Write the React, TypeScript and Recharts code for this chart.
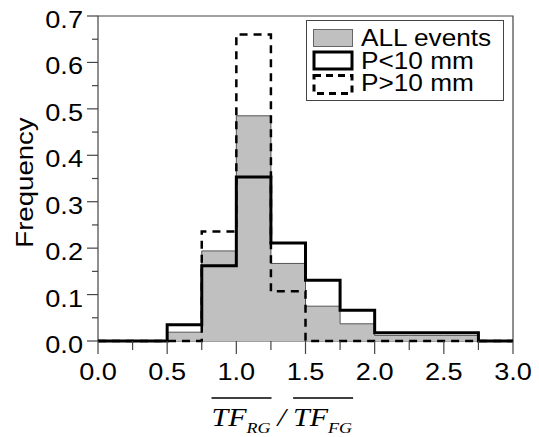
import React from 'react';
import {
    ComposedChart, Area, Line, XAxis, YAxis, ReferenceArea, Legend, Label
} from 'recharts';

// histogram bins (width 0.25) and frequencies
const binStarts = [0, 0.25, 0.5, 0.75, 1.0, 1.25, 1.5, 1.75, 2.0, 2.25, 2.5, 2.75];
const allEvents = [0, 0, 0.019, 0.194, 0.485, 0.167, 0.075, 0.037, 0.012, 0.012, 0.012, 0];
const pLess10 = [0, 0, 0.035, 0.162, 0.353, 0.211, 0.131, 0.066, 0.018, 0.018, 0.018, 0];
const pMore10 = [0, 0, 0, 0.236, 0.66, 0.107, 0, 0, 0, 0, 0, 0];
const binEnd = 3.0;

const xTicks = [0, 0.25, 0.5, 0.75, 1.0, 1.25, 1.5, 1.75, 2.0, 2.25, 2.5, 2.75, 3.0];
const yTicks = [0, 0.05, 0.1, 0.15, 0.2, 0.25, 0.3, 0.35, 0.4, 0.45, 0.5, 0.55, 0.6, 0.65, 0.7];

const seriesNames = { all: 'ALL events', lt10: 'P<10 mm', gt10: 'P>10 mm' };

// step series need a closing point at the right edge
const rows = binStarts.map((x, i) => ({ x, all: allEvents[i], lt10: pLess10[i], gt10: pMore10[i] }));
rows.push({ x: binEnd, all: allEvents[allEvents.length - 1], lt10: pLess10[pLess10.length - 1], gt10: pMore10[pMore10.length - 1] });

const SANS = "'Liberation Sans', Arial, Helvetica, sans-serif";
const SERIF = "'Liberation Serif', 'Times New Roman', serif";
const AXIS = '#444';
const GREY = '#c0c0c0';

const renderXTick = (props: any) => {
    const { x, y, payload } = props;
    const v = payload.value;
    const major = Math.round(v * 100) % 50 === 0;
    return (
        <g>
            <line x1={x} x2={x} y1={y} y2={y + (major ? 13 : 9)} stroke={AXIS} strokeWidth={1.2} />
            {major && (
                <text transform={`translate(${x},${y + 39}) scale(1.18,1)`} textAnchor="middle"
                    fontFamily={SANS} fontSize={23} fill="#000">{v.toFixed(1)}</text>
            )}
        </g>
    );
};

const renderYTick = (props: any) => {
    const { x, y, payload } = props;
    const v = payload.value;
    const major = Math.round(v * 100) % 10 === 0;
    return (
        <g>
            <line x1={x - (major ? 11 : 6)} x2={x} y1={y} y2={y} stroke={AXIS} strokeWidth={1.2} />
            {major && (
                <text transform={`translate(${x - 15},${y + 12}) scale(1.18,1)`} textAnchor="end"
                    fontFamily={SANS} fontSize={23} fill="#000">{v.toFixed(1)}</text>
            )}
        </g>
    );
};

const FreqLabel = (props: any) => {
    const vb = props.viewBox;
    return (
        <text transform={`translate(33,${vb.y + vb.height / 2 + 4}) rotate(-90) scale(1.2,1)`}
            textAnchor="middle" fontFamily={SANS} fontSize={23} fill="#000">Frequency</text>
    );
};

// overlined TF_RG / TF_FG
const RatioLabel = (props: any) => {
    const vb = props.viewBox;
    const ox = vb.x + vb.width / 2 - 94;
    const base = vb.y + 85;
    const sub = vb.y + 92;
    const over = vb.y + 57;
    const big = (tx: number, s: string) => (
        <text transform={`translate(${tx},${base}) scale(1.2,1)`} fontFamily={SERIF} fontStyle="italic" fontSize={25} fill="#000">{s}</text>
    );
    const small = (tx: number, s: string) => (
        <text transform={`translate(${tx},${sub}) scale(1.2,1)`} fontFamily={SERIF} fontStyle="italic" fontSize={15} fill="#000">{s}</text>
    );
    return (
        <g>
            <line x1={ox} x2={ox + 60} y1={over} y2={over} stroke="#000" strokeWidth={1.5} />
            <line x1={ox + 81.6} x2={ox + 141.6} y1={over} y2={over} stroke="#000" strokeWidth={1.5} />
            {big(ox, 'TF')}
            {small(ox + 35, 'RG')}
            {big(ox + 66, '/')}
            {big(ox + 81.6, 'TF')}
            {small(ox + 116.6, 'FG')}
        </g>
    );
};

const renderLegend = (props: any) => {
    const items = props.payload || [];
    return (
        <svg width={199} height={82} style={{ display: 'block' }}>
            <rect x={0.5} y={0.5} width={197} height={80} fill="#fff" stroke={AXIS} strokeWidth={1} />
            {items.map((entry: any, i: number) => {
                const sy = 9.5 + i * 22.5;
                let swatch = null;
                if (entry.dataKey === 'all') {
                    swatch = <rect x={7.5} y={sy} width={39} height={17} fill={GREY} stroke="#666" strokeWidth={1} />;
                } else if (entry.dataKey === 'lt10') {
                    swatch = <rect x={8} y={sy} width={38} height={17} fill="#fff" stroke="#000" strokeWidth={3} />;
                } else {
                    swatch = <rect x={8} y={sy + 1} width={38} height={18} fill="#fff" stroke="#000" strokeWidth={3} strokeDasharray="7 5" />;
                }
                return (
                    <g key={entry.dataKey}>
                        {swatch}
                        <text transform={`translate(55,${26 + i * 22.7}) scale(1.14,1)`} fontFamily={SANS} fontSize={23} fill="#000">{entry.value}</text>
                    </g>
                );
            })}
        </svg>
    );
};

export default function App() {
    return (
        <div style={{ position: 'absolute', left: 0, top: 0, width: 539, height: 437, background: '#fff' }}>
            <ComposedChart width={539} height={437} data={rows} margin={{ top: 16, right: 26, left: 0, bottom: 0 }}>
                <ReferenceArea x1={0} x2={3} y1={0} y2={0.7} fill="none" fillOpacity={0} stroke={AXIS} strokeWidth={1.2} ifOverflow="visible" />
                <XAxis dataKey="x" type="number" domain={[0, 3]} ticks={xTicks} interval={0}
                    tick={renderXTick} tickLine={false} axisLine={false} tickSize={0} tickMargin={0} height={96}>
                    <Label content={<RatioLabel />} />
                </XAxis>
                <YAxis type="number" domain={[0, 0.7]} ticks={yTicks} interval={0}
                    tick={renderYTick} tickLine={false} axisLine={false} tickSize={0} tickMargin={0} width={98}>
                    <Label content={<FreqLabel />} />
                </YAxis>
                <Area type="stepAfter" dataKey="all" name={seriesNames.all} fill={GREY} fillOpacity={1}
                    stroke="#555" strokeWidth={1} isAnimationActive={false} />
                <Line type="stepAfter" dataKey="lt10" name={seriesNames.lt10} stroke="#000" strokeWidth={3}
                    dot={false} activeDot={false} isAnimationActive={false} />
                <Line type="stepAfter" dataKey="gt10" name={seriesNames.gt10} stroke="#000" strokeWidth={2.5}
                    strokeDasharray="8 6" dot={false} activeDot={false} isAnimationActive={false} />
                <Legend layout="horizontal" verticalAlign="middle" align="center" content={renderLegend}
                    wrapperStyle={{ left: 306, top: 20, width: 199, height: 82 }} />
            </ComposedChart>
        </div>
    );
}
